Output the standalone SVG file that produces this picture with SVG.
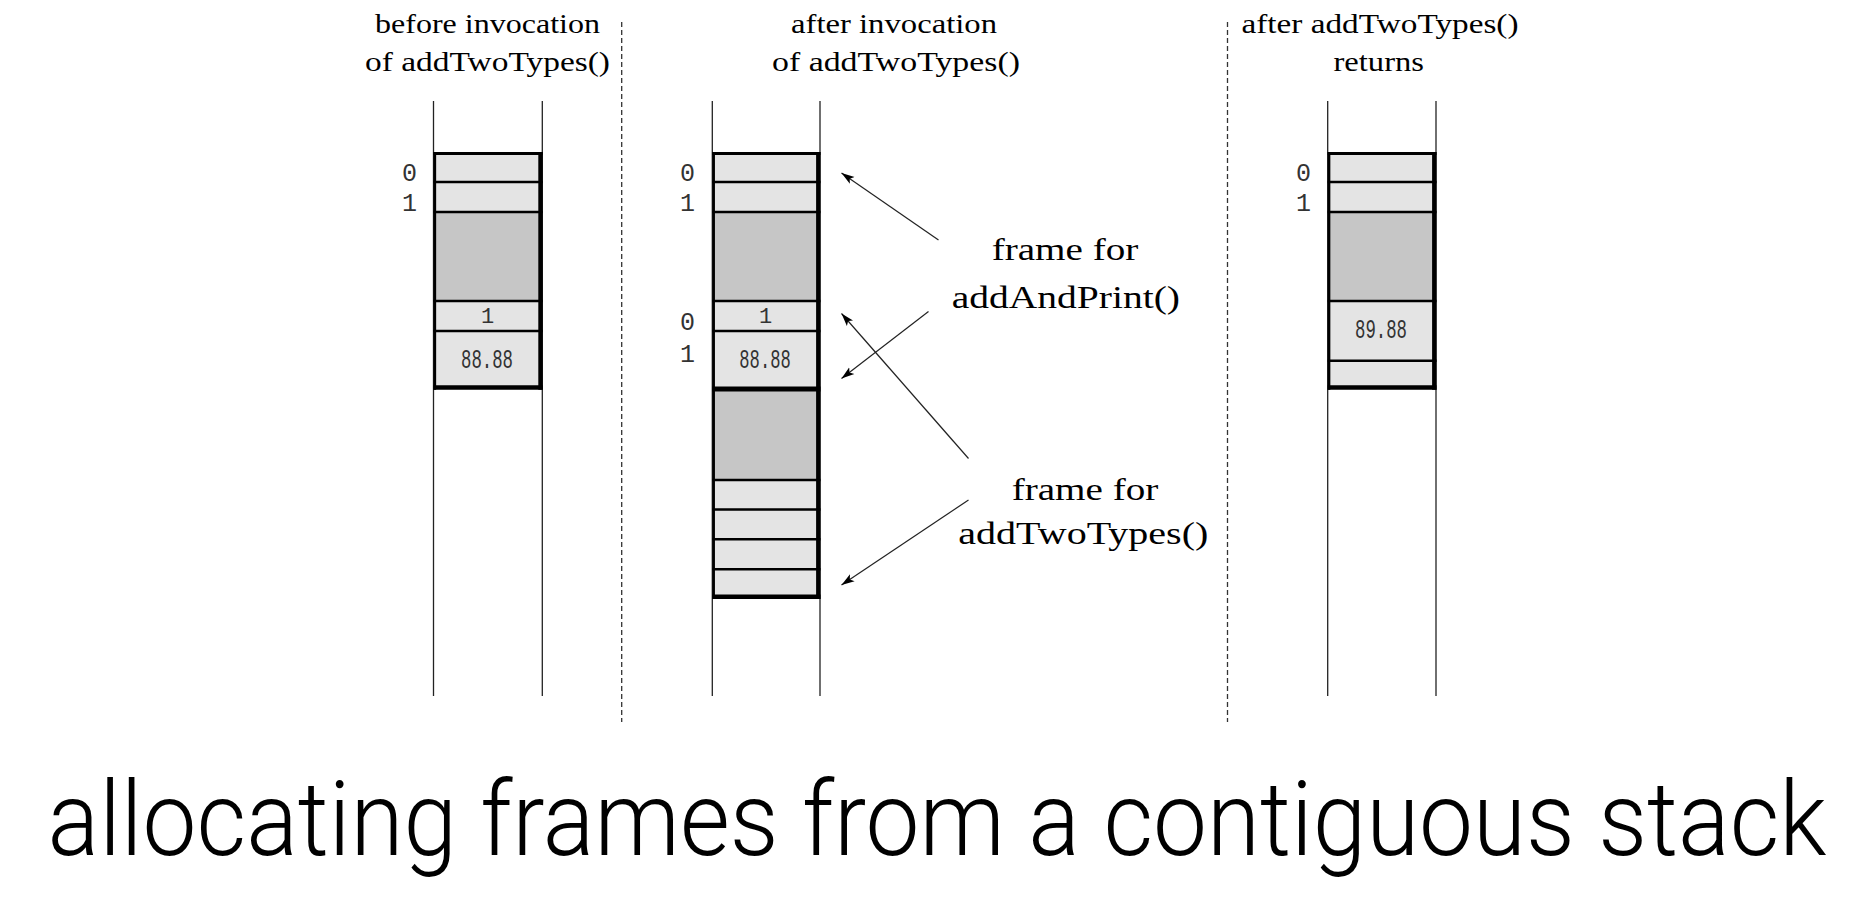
<svg xmlns="http://www.w3.org/2000/svg" width="1866" height="912" viewBox="0 0 1866 912">
<style>
.hdr{font-family:"Liberation Serif","Times New Roman",serif;font-size:28px;fill:#000}
.lbl{font-family:"Liberation Serif","Times New Roman",serif;font-size:32px;fill:#000}
.num{font-family:"Liberation Mono","Courier New",monospace;font-size:25px;fill:#333;text-anchor:middle}
.val{font-family:"Liberation Mono","Courier New",monospace;font-size:27px;fill:#333}
.rail{stroke:#222;stroke-width:1.3;fill:none}
.sep{stroke:#333;stroke-width:1.3;stroke-dasharray:5 3;fill:none}
.lt{fill:#e4e4e4}
.dk{fill:#c6c6c6}
.hl{stroke:#000;stroke-width:2.6}
.tb{stroke:#000;stroke-width:3}
.bb{stroke:#000;stroke-width:4.6}
.lb{stroke:#000;stroke-width:2.7}
.rb{stroke:#000;stroke-width:4.4}
.arr{stroke:#222;stroke-width:1.2;fill:none;marker-end:url(#ah)}
.title{font-family:Roboto,"Liberation Sans",Arial,sans-serif;font-weight:300;font-size:94.5px;fill:#000}
</style>
<defs>
<marker id="ah" markerWidth="14" markerHeight="10" refX="13" refY="5" orient="auto" markerUnits="userSpaceOnUse">
<path d="M0,0.8 L13,5 L0,9.2 L3,5 z" fill="#000"/>
</marker>
</defs>
<rect width="1866" height="912" fill="#fff"/>

<g id="separators">
<line class="sep" x1="621.7" y1="22" x2="621.7" y2="722"/>
<line class="sep" x1="1227.5" y1="22" x2="1227.5" y2="722"/>
</g>

<g id="headers">
<text class="hdr" x="375" y="33" textLength="225" lengthAdjust="spacingAndGlyphs">before invocation</text>
<text class="hdr" x="365" y="71" textLength="245" lengthAdjust="spacingAndGlyphs">of addTwoTypes()</text>
<text class="hdr" x="791" y="33" textLength="206" lengthAdjust="spacingAndGlyphs">after invocation</text>
<text class="hdr" x="772" y="71" textLength="248" lengthAdjust="spacingAndGlyphs">of addTwoTypes()</text>
<text class="hdr" x="1241.5" y="33" textLength="277" lengthAdjust="spacingAndGlyphs">after addTwoTypes()</text>
<text class="hdr" x="1333.5" y="71" textLength="90.5" lengthAdjust="spacingAndGlyphs">returns</text>
</g>

<g id="stack-before">
<rect class="lt" x="435" y="153" width="105.5" height="234.5"/>
<rect class="dk" x="435" y="212" width="105.5" height="89"/>
<line class="rail" x1="433.5" y1="101" x2="433.5" y2="696"/>
<line class="rail" x1="542.3" y1="101" x2="542.3" y2="696"/>
<line class="tb" x1="433.5" y1="153.5" x2="542.7" y2="153.5"/>
<line class="hl" x1="433.5" y1="182" x2="542.7" y2="182"/>
<line class="hl" x1="433.5" y1="212" x2="542.7" y2="212"/>
<line class="hl" x1="433.5" y1="301" x2="542.7" y2="301"/>
<line class="hl" x1="433.5" y1="331" x2="542.7" y2="331"/>
<line class="bb" x1="433.5" y1="387.5" x2="542.7" y2="387.5"/>
<line class="lb" x1="434.8" y1="152" x2="434.8" y2="389.8"/>
<line class="rb" x1="540.5" y1="152" x2="540.5" y2="389.8"/>
<text class="num" x="409.5" y="181">0</text>
<text class="num" x="409.5" y="211">1</text>
<text class="num" x="487.5" y="323" style="font-size:22px">1</text>
<text class="val" x="461" y="368" textLength="52" lengthAdjust="spacingAndGlyphs">88.88</text>
</g>

<g id="stack-during">
<rect class="lt" x="713.8" y="153" width="104.5" height="444"/>
<rect class="dk" x="713.8" y="212" width="104.5" height="89"/>
<rect class="dk" x="713.8" y="389" width="104.5" height="91"/>
<line class="rail" x1="712.3" y1="101" x2="712.3" y2="696"/>
<line class="rail" x1="820" y1="101" x2="820" y2="696"/>
<line class="tb" x1="712.3" y1="153.5" x2="820.5" y2="153.5"/>
<line class="hl" x1="712.3" y1="182" x2="820.5" y2="182"/>
<line class="hl" x1="712.3" y1="212" x2="820.5" y2="212"/>
<line class="hl" x1="712.3" y1="301" x2="820.5" y2="301"/>
<line class="hl" x1="712.3" y1="331" x2="820.5" y2="331"/>
<line class="tb" x1="712.3" y1="389" x2="820.5" y2="389" style="stroke-width:5"/>
<line class="hl" x1="712.3" y1="480" x2="820.5" y2="480"/>
<line class="hl" x1="712.3" y1="509.5" x2="820.5" y2="509.5"/>
<line class="hl" x1="712.3" y1="539.3" x2="820.5" y2="539.3"/>
<line class="hl" x1="712.3" y1="569.3" x2="820.5" y2="569.3"/>
<line class="bb" x1="712.3" y1="596.8" x2="820.5" y2="596.8"/>
<line class="lb" x1="713.6" y1="152" x2="713.6" y2="599"/>
<line class="rb" x1="818.3" y1="152" x2="818.3" y2="599"/>
<text class="num" x="687.5" y="181">0</text>
<text class="num" x="687.5" y="211">1</text>
<text class="num" x="687.5" y="330">0</text>
<text class="num" x="687.5" y="361.5">1</text>
<text class="num" x="765.7" y="323" style="font-size:22px">1</text>
<text class="val" x="739.3" y="368" textLength="51.5" lengthAdjust="spacingAndGlyphs">88.88</text>
</g>

<g id="stack-after">
<rect class="lt" x="1329.2" y="153" width="105" height="234.5"/>
<rect class="dk" x="1329.2" y="212" width="105" height="89"/>
<line class="rail" x1="1327.7" y1="101" x2="1327.7" y2="696"/>
<line class="rail" x1="1436" y1="101" x2="1436" y2="696"/>
<line class="tb" x1="1327.7" y1="153.5" x2="1436.5" y2="153.5"/>
<line class="hl" x1="1327.7" y1="182" x2="1436.5" y2="182"/>
<line class="hl" x1="1327.7" y1="212" x2="1436.5" y2="212"/>
<line class="hl" x1="1327.7" y1="301" x2="1436.5" y2="301"/>
<line class="hl" x1="1327.7" y1="360.7" x2="1436.5" y2="360.7"/>
<line class="bb" x1="1327.7" y1="387.5" x2="1436.5" y2="387.5"/>
<line class="lb" x1="1329" y1="152" x2="1329" y2="389.8"/>
<line class="rb" x1="1434.3" y1="152" x2="1434.3" y2="389.8"/>
<text class="num" x="1303.5" y="181">0</text>
<text class="num" x="1303.5" y="211">1</text>
<text class="val" x="1355" y="338" textLength="52" lengthAdjust="spacingAndGlyphs">89.88</text>
</g>

<g id="label-addAndPrint">
<text class="lbl" x="991.7" y="260" textLength="146.6" lengthAdjust="spacingAndGlyphs">frame for</text>
<text class="lbl" x="951.7" y="308" textLength="228.3" lengthAdjust="spacingAndGlyphs">addAndPrint()</text>
</g>
<g id="label-addTwoTypes">
<text class="lbl" x="1011.7" y="500" textLength="146.6" lengthAdjust="spacingAndGlyphs">frame for</text>
<text class="lbl" x="958.3" y="544" textLength="250" lengthAdjust="spacingAndGlyphs">addTwoTypes()</text>
</g>

<g id="connectors">
<line class="arr" x1="938.5" y1="240" x2="841.5" y2="173"/>
<line class="arr" x1="928.5" y1="311.5" x2="841.5" y2="378.5"/>
<line class="arr" x1="968.5" y1="458.5" x2="841.5" y2="313.5"/>
<line class="arr" x1="968.5" y1="500" x2="841.5" y2="585"/>
</g>

<g id="title" transform="scale(1,1.1)">
<text class="title" x="47.6" y="777.3" textLength="1779" lengthAdjust="spacingAndGlyphs">allocating frames from a contiguous stack</text>
</g>
</svg>
